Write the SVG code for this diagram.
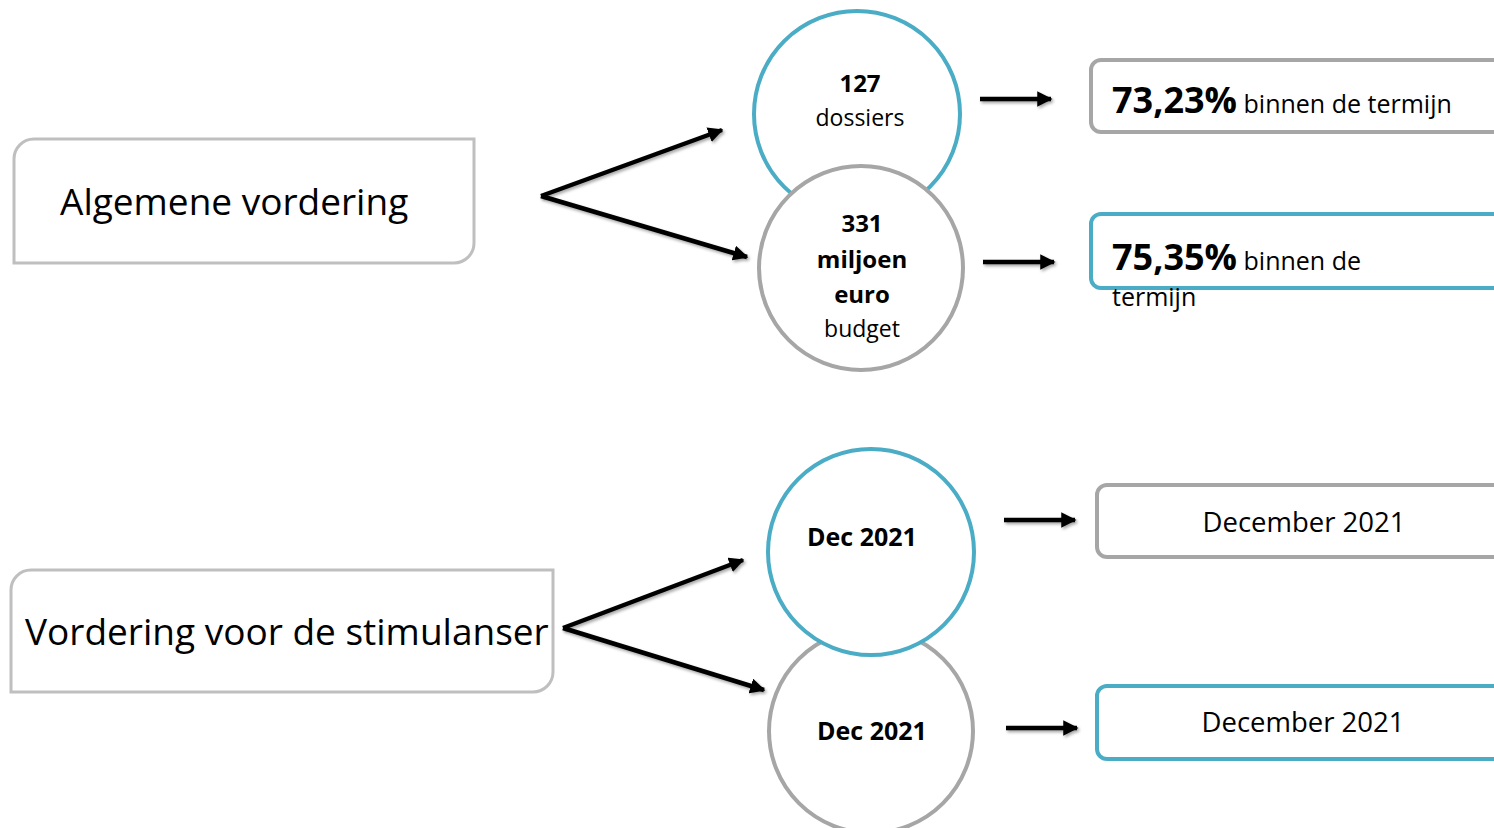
<svg xmlns="http://www.w3.org/2000/svg" width="1494" height="828" viewBox="0 0 1494 828">
<defs>
<style>
text{font-family:"Open Sans","Noto Sans","Liberation Sans",sans-serif;fill:#000}
.b{font-weight:bold}
.lbox{fill:#fff;stroke:#BFBFBF;stroke-width:3}
.gray{fill:#fff;stroke:#A6A6A6;stroke-width:4}
.blue{fill:#fff;stroke:#4BACC6;stroke-width:4}
.arr{stroke:#000;stroke-width:4.5;fill:none;marker-end:url(#ah);filter:url(#sh)}
</style>
<marker id="ah" viewBox="0 0 10 10" refX="9" refY="5" markerWidth="3.4" markerHeight="3.4" orient="auto" markerUnits="strokeWidth">
<path d="M0,0 L10,5 L0,10 Z" fill="#000"/>
</marker>
<filter id="sh" filterUnits="userSpaceOnUse" x="0" y="0" width="1494" height="828">
<feDropShadow dx="1.5" dy="2" stdDeviation="1.5" flood-color="#000" flood-opacity="0.35"/>
</filter>
</defs>

<g id="box-algemene">
<path class="lbox" d="M34,139 H474 V243 A20,20 0 0 1 454,263 H14 V159 A20,20 0 0 1 34,139 Z"/>
<text x="60" y="215" font-size="37">Algemene vordering</text>
</g>

<g id="box-stimulansen">
<path class="lbox" d="M31,570 H553 V672 A20,20 0 0 1 533,692 H11 V590 A20,20 0 0 1 31,570 Z"/>
<text x="25" y="645" font-size="37">Vordering voor de stimulanser</text>
</g>

<g id="circle-127">
<circle class="blue" cx="857" cy="114" r="103"/>
<text x="860" y="92" font-size="24" class="b" text-anchor="middle">127</text>
<text x="860" y="126" font-size="23" text-anchor="middle">dossiers</text>
</g>

<g id="circle-331">
<circle class="gray" cx="861" cy="268" r="102"/>
<text x="862" y="232" font-size="24" class="b" text-anchor="middle">331</text>
<text x="862" y="268" font-size="24" class="b" text-anchor="middle">miljoen</text>
<text x="862" y="303" font-size="24" class="b" text-anchor="middle">euro</text>
<text x="862" y="337" font-size="23" text-anchor="middle">budget</text>
</g>

<g id="circle-dec-2">
<circle class="gray" cx="871" cy="731" r="102"/>
<text x="872" y="740" font-size="25" class="b" text-anchor="middle">Dec 2021</text>
</g>

<g id="circle-dec-1">
<circle class="blue" cx="871" cy="552" r="103"/>
<text x="862" y="546" font-size="25" class="b" text-anchor="middle">Dec 2021</text>
</g>

<g id="box-7323">
<path class="gray" d="M1101,60 H1510 V132 H1101 A10,10 0 0 1 1091,122 V70 A10,10 0 0 1 1101,60 Z"/>
<text x="1112" y="113"><tspan class="b" font-size="36">73,23%</tspan><tspan font-size="25"> binnen de termijn</tspan></text>
</g>

<g id="box-7535">
<path class="blue" d="M1101,214 H1510 V288 H1101 A10,10 0 0 1 1091,278 V224 A10,10 0 0 1 1101,214 Z"/>
<text x="1112" y="270"><tspan class="b" font-size="36">75,35%</tspan><tspan font-size="25"> binnen de</tspan></text>
<text x="1112" y="306" font-size="25">termijn</text>
</g>

<g id="box-dec-1">
<path class="gray" d="M1107,485 H1510 V557 H1107 A10,10 0 0 1 1097,547 V495 A10,10 0 0 1 1107,485 Z"/>
<text x="1304" y="532" font-size="27.5" text-anchor="middle">December 2021</text>
</g>

<g id="box-dec-2">
<path class="blue" d="M1107,686 H1510 V759 H1107 A10,10 0 0 1 1097,749 V696 A10,10 0 0 1 1107,686 Z"/>
<text x="1303" y="732" font-size="27.5" text-anchor="middle">December 2021</text>
</g>

<g id="connectors">
<path class="arr" d="M541,196 L722,130"/>
<path class="arr" d="M541,196 L747,257"/>
<path class="arr" d="M563,628 L743,560"/>
<path class="arr" d="M563,628 L764,690"/>
<path class="arr" d="M980,99 L1051,99"/>
<path class="arr" d="M983,262 L1054,262"/>
<path class="arr" d="M1004,520 L1075,520"/>
<path class="arr" d="M1006,728 L1077,728"/>
</g>
</svg>
